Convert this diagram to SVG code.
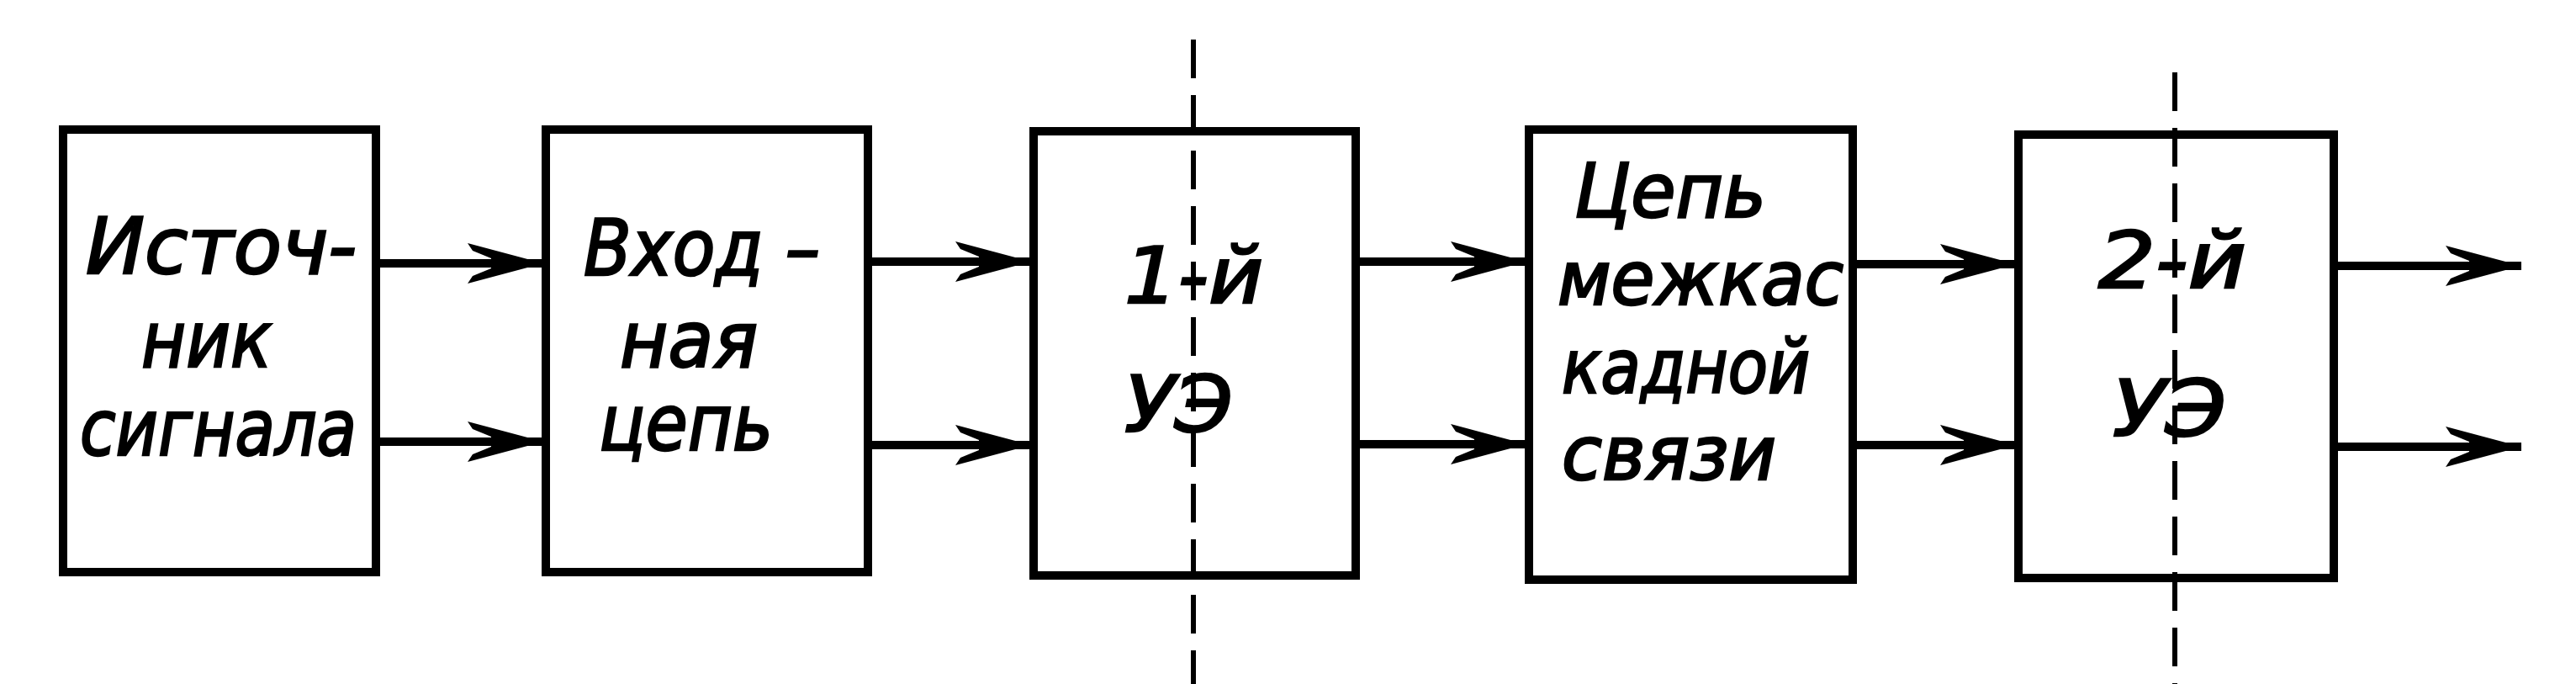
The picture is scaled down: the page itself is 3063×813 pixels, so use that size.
<svg xmlns="http://www.w3.org/2000/svg" width="3063" height="813" viewBox="0 0 3063 813">
<style>
.box{fill:none;stroke:#000;stroke-width:10}
.wire{stroke:#000;stroke-width:10;fill:none;marker-end:url(#ah)}
.axis{stroke:#000;stroke-width:6;fill:none;stroke-dasharray:46 20}
.t{font-family:'DejaVu Sans Condensed','DejaVu Sans',sans-serif;font-style:oblique;font-size:93px;fill:#000;stroke:#000;stroke-width:2.5}
.s{font-size:89px}
</style>
<defs>
<marker id="ah" markerUnits="userSpaceOnUse" markerWidth="100" markerHeight="60" viewBox="-95 -30 100 60" refX="0" refY="0" orient="auto">
<path d="M0,0 L-90,-24 L-84,-15 L-62,-6 L-62,6 L-84,15 L-90,24 Z" fill="#000"/>
</marker>
</defs>
<rect width="3063" height="813" fill="#fff"/>
<g id="connectors">
<line class="wire" x1="452" y1="313" x2="646" y2="313"/>
<line class="wire" x1="452" y1="525" x2="646" y2="525"/>
<line class="wire" x1="1037" y1="311" x2="1226" y2="311"/>
<line class="wire" x1="1037" y1="529" x2="1226" y2="529"/>
<line class="wire" x1="1617" y1="311" x2="1815" y2="311"/>
<line class="wire" x1="1617" y1="528" x2="1815" y2="528"/>
<line class="wire" x1="2208" y1="314" x2="2397" y2="314"/>
<line class="wire" x1="2208" y1="529" x2="2397" y2="529"/>
<line class="wire" x1="2780" y1="316" x2="2998" y2="316"/>
<line class="wire" x1="2780" y1="531" x2="2998" y2="531"/>
<line class="axis" x1="1419" y1="47" x2="1419" y2="813"/>
<line class="axis" x1="2586" y1="86" x2="2586" y2="813"/>
</g>
<g id="source">
<rect class="box" x="75" y="154" width="372" height="526"/>
<text class="t" x="102" y="325" textLength="322" lengthAdjust="spacingAndGlyphs">Источ-</text>
<text class="t" x="168" y="436" textLength="155" lengthAdjust="spacingAndGlyphs">ник</text>
<text class="t" x="95" y="541" textLength="329" lengthAdjust="spacingAndGlyphs">сигнала</text>
</g>
<g id="input">
<rect class="box" x="649" y="154" width="383" height="526"/>
<text class="t" x="694" y="327" textLength="281" lengthAdjust="spacingAndGlyphs">Вход –</text>
<text class="t" x="737" y="436" textLength="164" lengthAdjust="spacingAndGlyphs">ная</text>
<text class="t" x="712" y="535" textLength="207" lengthAdjust="spacingAndGlyphs">цепь</text>
</g>
<g id="stage1">
<rect class="box" x="1229" y="156" width="383" height="528"/>
<text class="t" x="1337" y="360" textLength="165" lengthAdjust="spacingAndGlyphs">1-й</text>
<text class="t" x="1337" y="513" textLength="129" lengthAdjust="spacingAndGlyphs">УЭ</text>
</g>
<g id="coupling">
<rect class="box" x="1818" y="154" width="385" height="535"/>
<text class="t s" x="1872" y="258" textLength="228" lengthAdjust="spacingAndGlyphs">Цепь</text>
<text class="t s" x="1852" y="362" textLength="340" lengthAdjust="spacingAndGlyphs">межкас</text>
<text class="t s" x="1857" y="467" textLength="295" lengthAdjust="spacingAndGlyphs">кадной</text>
<text class="t s" x="1857" y="570" textLength="255" lengthAdjust="spacingAndGlyphs">связи</text>
</g>
<g id="stage2">
<rect class="box" x="2400" y="160" width="375" height="527"/>
<text class="t" x="2495" y="342" textLength="176" lengthAdjust="spacingAndGlyphs">2-й</text>
<text class="t" x="2512" y="518" textLength="135" lengthAdjust="spacingAndGlyphs">УЭ</text>
</g>
</svg>
